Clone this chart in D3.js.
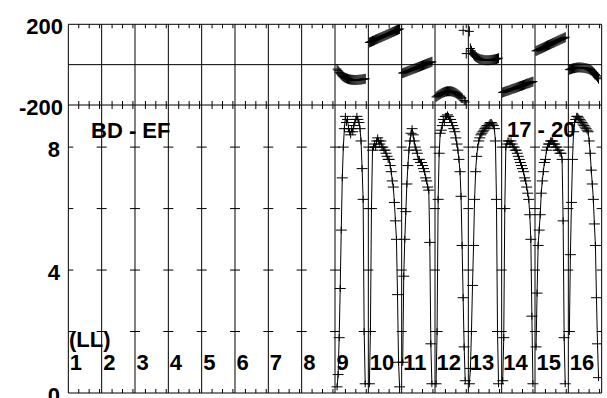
<!DOCTYPE html>
<html><head><meta charset="utf-8">
<script src="https://cdn.jsdelivr.net/npm/d3@7/dist/d3.min.js"></script>
<style>html,body{margin:0;padding:0;background:#fff;} svg{display:block;}</style>
</head><body>
<svg id="c" width="607" height="398"></svg>
<script>
// ---------- data ----------
const channels = [1,2,3,4,5,6,7,8,9,10,11,12,13,14,15,16];
const plottedChannels = [9,10,11,12,13,14,15,16];
const times = [0.1,0.2,0.3,0.4,0.5,0.6,0.7,0.8,0.9,1.0,1.1,1.2,1.3,1.4,1.5,1.6,1.7,1.8,1.9,2.0,2.1,2.2,2.3,2.4,2.5,2.6,2.7,2.8,2.9,3.0];

const amp9  = [null,0.2,0.6,1.8,3.4,5.3,7.0,8.0,8.6,9.0, 8.8,8.9,8.6,8.5,8.4,8.6,8.5,8.7,8.8,8.9, 9.0,8.9,8.8,8.6,8.2,7.3,6.3,2.0,0.3,null];
const amp10 = [0.3,2.0,6.0,7.9,8.0,8.1,8.0,8.2,8.3,8.2, 8.1,8.2,8.0,8.0,7.9,7.9,7.8,7.7,7.6,7.6, 7.4,7.2,6.9,6.7,6.2,5.6,5.0,3.2,1.0,0.2];
const amp11 = [1.0,3.8,5.0,5.9,6.8,7.4,7.9,8.2,8.45,8.6, 8.4,8.2,8.0,7.9,7.8,7.6,7.6,7.5,7.5,7.4, 7.3,7.2,7.0,6.9,6.7,6.6,4.9,1.6,0.3,null];
const amp12 = [0.3,2.0,6.3,7.8,8.45,8.55,8.7,8.9,8.8,9.0, 9.0,9.05,9.0,8.9,8.9,8.8,8.7,8.6,8.5,8.3, 8.1,7.9,7.6,7.2,6.4,4.8,3.1,1.5,0.4,null];
const amp13 = [0.3,0.8,2.0,3.5,4.8,6.3,7.2,7.7,8.0,8.2, 8.3,8.4,8.45,8.5,8.55,8.6,8.65,8.7,8.7,8.75, 8.8,8.8,8.75,8.7,8.6,8.2,6.3,2.0,0.3,null];
const amp14 = [0.4,1.8,6.0,8.0,8.1,8.2,8.2,8.1,8.2,8.1, 8.0,8.0,7.9,7.9,7.8,7.7,7.6,7.5,7.4,7.3, 7.2,7.0,6.9,6.7,6.5,6.3,5.8,5.0,2.5,0.3];
const amp15 = [1.5,3.25,4.8,5.3,5.8,6.5,6.9,7.2,7.5,7.6, 7.9,8.0,8.1,8.1,8.2,8.2,8.2,8.1,8.1,8.0, 8.0,7.9,7.9,7.8,7.8,7.6,5.6,1.8,0.3,null];
const amp16 = [2.0,4.5,6.2,7.6,8.5,8.8,8.9,9.0,9.0,8.95, 8.9,8.85,8.8,8.75,8.7,8.65,8.6,8.55,8.5,8.2, 7.8,7.25,6.8,6.3,5.5,4.8,3.1,1.6,0.5,null];

const phase9  = [null,-22,-30,-38,-45,-51,-56,-60,-63,-66, -68,-70,-72,-73,-74,-75,-75,-76,-76,-76, -76,-75,-75,-74,-74,-73,-72,-71,-70,null];
const phase10 = [110,112,114,117,119,121,124,126,128,131, 133,135,137,140,142,144,147,149,151,154, 156,158,161,163,165,168,170,172,175,177];
const phase11 = [-42,-40,-38,-36,-34,-32,-30,-28,-26,-24, -22,-20,-18,-16,-14,-12,-10,-8,-6,-4, -2,0,2,4,6,8,10,12,14,null];
const phase12 = [-160,-156,-152,-149,-146,-143,-140,-138,-136,-134, -133,-132,-132,-132,-132,-133,-134,-136,-138,-141, -144,-148,-152,-156,-161,-166,170,-178,-185,55];
const phase13 = [165,80,68,58,50,44,40,36,33,30, 28,26,25,24,23,22,22,22,22,22, 23,23,24,25,26,27,28,30,32,null];
const phase14 = [-138,-136,-134,-132,-130,-129,-127,-125,-123,-121, -119,-118,-116,-114,-112,-110,-108,-106,-105,-103, -101,-99,-97,-95,-93,-92,-90,-88,-86,-84];
const phase15 = [68,70,73,75,78,80,82,85,87,90, 92,95,97,99,102,104,107,109,111,114, 116,119,121,124,126,128,131,133,136,null];
const phase16 = [-25,-23,-21,-19,-18,-17,-16,-15,-14,-14, -14,-14,-15,-15,-16,-17,-18,-19,-21,-23, -26,-29,-33,-38,-43,-49,-55,-62,-70,null];

const ampSeries = [amp9,amp10,amp11,amp12,amp13,amp14,amp15,amp16];
const phaseSeries = [phase9,phase10,phase11,phase12,phase13,phase14,phase15,phase16];

const ampTicks = [2,4,6,8];
const ampLabels = ["8","4","0"];
const ampLabelValues = [8,4,0];
const phaseLabels = ["200","-200"];
const phaseLabelValues = [200,-200];
const timeTicks = [1,2,3];
const baselineTitle = "BD - EF";
const rangeTitle = "17 - 20";
const polLabel = "(LL)";

// ---------- layout ----------
const left = 68.33, right = 601.67, phTop = 24.3, mid = 105, bottom = 393;
const svg = d3.select("#c");
const font = "'Liberation Sans', Arial, Helvetica, sans-serif";

const xCh = d3.scaleLinear().domain([0,16]).range([left,right]);
const panelW = xCh(1) - xCh(0);
const xT = d3.scaleLinear().domain([0,3.2]).range([0,panelW]);
const yAmp = d3.scaleLinear().domain([0,9.37]).range([bottom,mid]);
const yPh = d3.scaleLinear().domain([-200,200]).range([mid,phTop]);

const defs = svg.append("defs");
defs.append("clipPath").attr("id","clipPh").append("rect")
  .attr("x",left).attr("y",phTop).attr("width",right-left).attr("height",mid-phTop);
defs.append("clipPath").attr("id","clipAmp").append("rect")
  .attr("x",left).attr("y",mid).attr("width",right-left).attr("height",bottom-mid);
defs.append("clipPath").attr("id","clipAll").append("rect")
  .attr("x",left).attr("y",phTop).attr("width",right-left).attr("height",bottom-phTop);

const grid = svg.append("g").attr("stroke","#000").attr("stroke-width",1).attr("fill","none");

// vertical channel boundaries (full height)
d3.range(0,17).forEach(i=>{
  grid.append("line").attr("x1",xCh(i)).attr("x2",xCh(i)).attr("y1",phTop).attr("y2",bottom);
});
// horizontal frame lines
[yPh(200), yPh(0), yPh(-200), yAmp(0)].forEach(y=>{
  grid.append("line").attr("x1",left).attr("x2",right).attr("y1",y).attr("y2",y);
});

// minor time ticks in every channel panel
const tickG = svg.append("g").attr("stroke","#000").attr("stroke-width",1).attr("clip-path","url(#clipAll)");
channels.forEach(c=>{
  timeTicks.forEach(t=>{
    const x = xCh(c-1) + xT(t);
    tickG.append("line").attr("x1",x).attr("x2",x).attr("y1",yPh(200)).attr("y2",yPh(200)+4);
    tickG.append("line").attr("x1",x).attr("x2",x).attr("y1",yPh(-200)-4).attr("y2",yPh(-200)+4);
    tickG.append("line").attr("x1",x).attr("x2",x).attr("y1",yAmp(0)-4).attr("y2",yAmp(0));
  });
});
// amplitude ticks crossing each boundary line
d3.range(0,17).forEach(i=>{
  ampTicks.forEach(v=>{
    tickG.append("line").attr("x1",xCh(i)-5).attr("x2",xCh(i)+5).attr("y1",yAmp(v)).attr("y2",yAmp(v));
  });
});

// ---------- text ----------
const txt = svg.append("g").attr("font-family",font).attr("font-weight","bold").attr("font-size",22).attr("fill","#000");
phaseLabels.forEach((s,i)=>{
  txt.append("text").attr("x",63).attr("y",yPh(phaseLabelValues[i])+10).attr("text-anchor","end").text(s);
});
ampLabels.forEach((s,i)=>{
  txt.append("text").attr("x",60).attr("y",yAmp(ampLabelValues[i])+10).attr("text-anchor","end").text(s);
});
txt.append("text").attr("x",91).attr("y",138).text(baselineTitle);
txt.append("text").attr("x",507).attr("y",137).text(rangeTitle);
txt.append("text").attr("x",69).attr("y",347).text(polLabel);
channels.forEach(c=>{
  txt.append("text").attr("x",xCh(c-1)+1.5).attr("y",370).text(String(c));
});

// ---------- data ----------
const dataG = svg.append("g");
plottedChannels.forEach((c,k)=>{
  const pts = times.map((t,i)=>({t:t, a:ampSeries[k][i], p:phaseSeries[k][i]}));
  const xf = d => xCh(c-1) + xT(d.t);
  // amplitude line
  const line = d3.line().defined(d=>d.a!=null).x(xf).y(d=>yAmp(d.a));
  dataG.append("path").attr("d",line(pts)).attr("fill","none").attr("stroke","#000")
    .attr("stroke-width",1).attr("clip-path","url(#clipAmp)");
  // amplitude markers
  let ma = "";
  pts.filter(d=>d.a!=null).forEach(d=>{
    const x = xf(d), y = yAmp(d.a);
    ma += `M${x-5.5},${y}H${x+5.5}M${x},${y-3.5}V${y+3.5}`;
  });
  dataG.append("path").attr("d",ma).attr("fill","none").attr("stroke","#000")
    .attr("stroke-width",1).attr("clip-path","url(#clipAmp)");
  // phase markers with error bars
  let mp = "";
  pts.filter(d=>d.p!=null).forEach(d=>{
    const x = xf(d), y = yPh(d.p);
    mp += `M${x-4.5},${y}H${x+4.5}M${x},${y-5}V${y+5}`;
  });
  dataG.append("path").attr("d",mp).attr("fill","none").attr("stroke","#000")
    .attr("stroke-width",1).attr("clip-path","url(#clipPh)");
});
</script>
</body></html>
